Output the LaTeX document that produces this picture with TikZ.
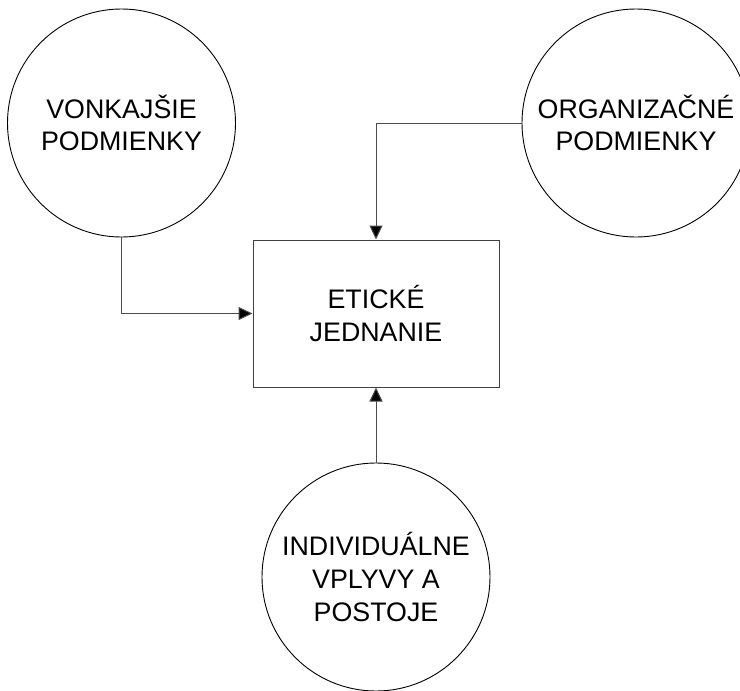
\documentclass[tikz,border=0pt]{standalone}
\usepackage{fontspec}
\setmainfont{Liberation Sans}
\usetikzlibrary{arrows.meta}
\begin{document}
\begin{tikzpicture}[x=1pt,y=-1pt,
  circ/.style={draw=black, line width=0.9pt, circle, minimum size=228pt, inner sep=0pt, align=center, font=\fontsize{26.8}{32.7}\selectfont},
  box/.style={draw=black!75, line width=1pt, rectangle, minimum width=246pt, minimum height=147pt, inner sep=0pt, align=center, font=\fontsize{26.8}{32.7}\selectfont},
  arr/.style={draw=black!70, line width=1pt, -{Triangle[length=14pt,width=13pt,fill=black]}}]
\useasboundingbox (0,0) rectangle (740,691);
\node[circ] (L) at (121.5,123) {VONKAJŠIE\\PODMIENKY};
\node[circ] (R) at (636,123) {ORGANIZAČNÉ\\PODMIENKY};
\node[circ] (B) at (376,577) {INDIVIDUÁLNE\\VPLYVY A\\POSTOJE};
\node[box] (E) at (376,313.5) {ETICKÉ\\JEDNANIE};
\draw[arr] (L.south) |- (E.west);
\draw[arr] (R.west) -| (E.north);
\draw[arr] (B.north) -- (E.south);
\end{tikzpicture}
\end{document}
